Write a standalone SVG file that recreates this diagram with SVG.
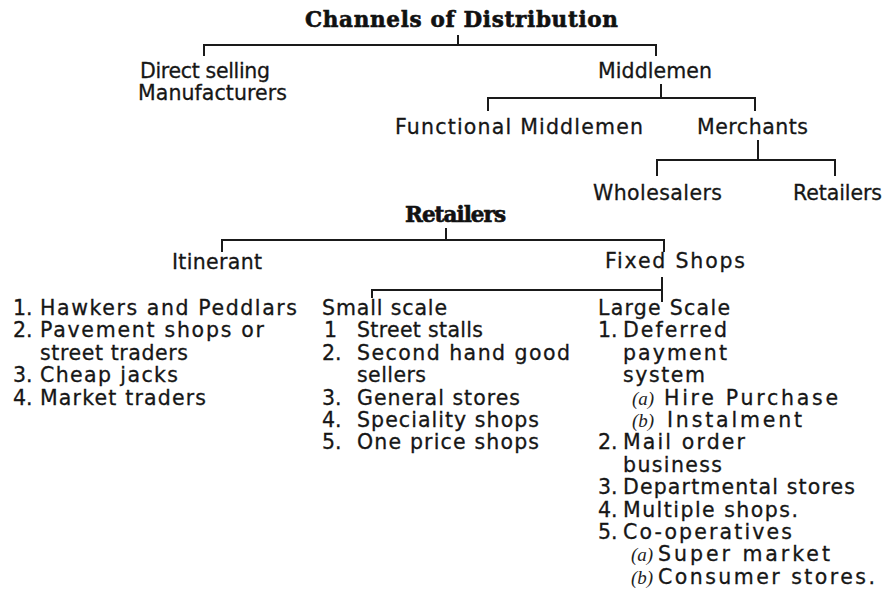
<svg xmlns="http://www.w3.org/2000/svg" width="886" height="595" viewBox="0 0 886 595">
<style>
.t{font-family:"DejaVu Sans","Open Sans",sans-serif;font-size:20.5px;fill:#161616;stroke:#161616;stroke-width:0.3}
.h{font-family:"DejaVu Serif","Liberation Serif",serif;font-size:21.5px;font-weight:bold;fill:#111;stroke:#111;stroke-width:0.6}
.i{font-family:"Liberation Serif","DejaVu Serif",serif;font-size:19px;font-style:italic;fill:#222}
.ln{fill:none;stroke:#1a1a1a;stroke-width:2}
</style>
<rect width="886" height="595" fill="#fff"/>
<g id="connectors">
<path class="ln" d="M458 35V45M204 56V45H656V56"/>
<path class="ln" d="M661 84V98M488 111V98H755V111"/>
<path class="ln" d="M758 140V160M657 176V160H835V176"/>
<path class="ln" d="M446 228V240M222 252V240H664V252"/>
<path class="ln" d="M662 277V302M372 298V290H662"/>
</g>
<g id="n-channels"><text class="h" x="305" y="27" textLength="313">Channels of Distribution</text></g>
<g id="n-direct"><text class="t" x="140" y="78" textLength="130">Direct selling</text><text class="t" x="138" y="100" textLength="149">Manufacturers</text></g>
<g id="n-middlemen"><text class="t" x="598" y="78" textLength="114">Middlemen</text></g>
<g id="n-functional"><text class="t" x="395" y="134" textLength="248">Functional Middlemen</text></g>
<g id="n-merchants"><text class="t" x="697" y="134" textLength="111">Merchants</text></g>
<g id="n-wholesalers"><text class="t" x="593" y="200" textLength="129">Wholesalers</text></g>
<g id="n-retailers1"><text class="t" x="793" y="200" textLength="89">Retailers</text></g>
<g id="n-retailers"><text class="h" x="405" y="222" textLength="101">Retailers</text></g>
<g id="n-itinerant"><text class="t" x="172" y="269" textLength="90">Itinerant</text></g>
<g id="n-fixed"><text class="t" x="605" y="268" textLength="140">Fixed Shops</text></g>
<g id="n-itinerant-list">
<text class="t" x="13" y="315">1.</text><text class="t" x="40" y="315" textLength="257">Hawkers and Peddlars</text>
<text class="t" x="13" y="337.4">2.</text><text class="t" x="40" y="337.4" textLength="224">Pavement shops or</text>
<text class="t" x="40" y="359.8" textLength="148">street traders</text>
<text class="t" x="13" y="382.2">3.</text><text class="t" x="40" y="382.2" textLength="138">Cheap jacks</text>
<text class="t" x="13" y="404.6">4.</text><text class="t" x="40" y="404.6" textLength="166">Market traders</text>
</g>
<g id="n-small">
<text class="t" x="322" y="315" textLength="125">Small scale</text>
<text class="t" x="324" y="337.4">1</text><text class="t" x="357" y="337.4" textLength="126">Street stalls</text>
<text class="t" x="322" y="359.8">2.</text><text class="t" x="357" y="359.8" textLength="213">Second hand good</text>
<text class="t" x="357" y="382.2" textLength="69">sellers</text>
<text class="t" x="322" y="404.6">3.</text><text class="t" x="357" y="404.6" textLength="163">General stores</text>
<text class="t" x="322" y="427">4.</text><text class="t" x="357" y="427" textLength="182">Speciality shops</text>
<text class="t" x="322" y="449.4">5.</text><text class="t" x="357" y="449.4" textLength="182">One price shops</text>
</g>
<g id="n-large">
<text class="t" x="598" y="315" textLength="132">Large Scale</text>
<text class="t" x="598" y="337.4">1.</text><text class="t" x="623" y="337.4" textLength="104">Deferred</text>
<text class="t" x="623" y="359.8" textLength="104">payment</text>
<text class="t" x="623" y="382.2" textLength="82">system</text>
<text class="i" x="632" y="404.6">(a)</text><text class="t" x="664" y="404.6" textLength="174">Hire Purchase</text>
<text class="i" x="632" y="427">(b)</text><text class="t" x="667" y="427" textLength="135">Instalment</text>
<text class="t" x="598" y="449.4">2.</text><text class="t" x="623" y="449.4" textLength="122">Mail order</text>
<text class="t" x="623" y="471.8" textLength="99">business</text>
<text class="t" x="598" y="494.2">3.</text><text class="t" x="623" y="494.2" textLength="232">Departmental stores</text>
<text class="t" x="598" y="516.6">4.</text><text class="t" x="623" y="516.6" textLength="175">Multiple shops.</text>
<text class="t" x="598" y="539">5.</text><text class="t" x="623" y="539" textLength="169">Co-operatives</text>
<text class="i" x="631" y="561.4" font-size="18">(a)</text><text class="t" x="658" y="561.4" textLength="172">Super market</text>
<text class="i" x="631" y="583.8" font-size="18">(b)</text><text class="t" x="658" y="583.8" textLength="217">Consumer stores.</text>
</g>
</svg>
